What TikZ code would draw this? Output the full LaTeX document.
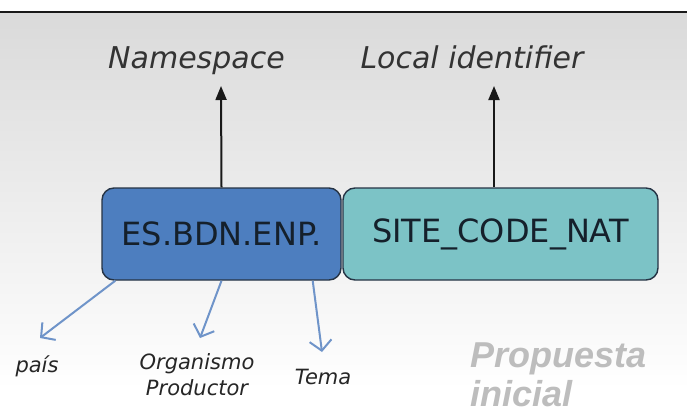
\documentclass[tikz,border=0pt]{standalone}
\usepackage{fontspec}
\setmainfont{DejaVu Sans}
\newfontfamily\propfont{Liberation Sans}
\usetikzlibrary{arrows.meta,calc}
\definecolor{bgtop}{HTML}{DADADA}
\definecolor{boxblue}{HTML}{4D7EBF}
\definecolor{boxteal}{HTML}{7CC3C6}
\definecolor{boxedge}{HTML}{263445}
\definecolor{boxtext}{HTML}{15202B}
\definecolor{subarrow}{HTML}{6F94C9}
\definecolor{propgray}{HTML}{BDBDBD}
\tikzset{
  idbox/.style={draw=boxedge, line width=1.4pt, rounded corners=12pt, inner sep=0pt,
    font=\fontsize{32}{38}\selectfont, text=boxtext},
  toplabel/.style={font=\fontsize{30}{36}\selectfont\itshape, text=black!80, anchor=base, inner sep=0pt},
  sublabel/.style={font=\fontsize{21}{26}\selectfont\itshape, text=black!85, inner sep=0pt, align=center},
  uparrow/.style={draw=black!90, line width=2pt, -{Triangle[length=14pt,width=11pt]}},
  subarrowstyle/.style={draw=subarrow, line width=2pt, -{Straight Barb[length=10pt,width=22pt,line width=2pt]}},
  proplabel/.style={font=\propfont\fontsize{36}{43}\selectfont\bfseries\itshape, text=propgray, anchor=base west, inner sep=0pt}
}
\begin{document}
\begin{tikzpicture}[x=1pt,y=-1pt]
  \useasboundingbox (0,0) rectangle (687,415);
  \fill[white] (0,0) rectangle (687,415);
  \shade[top color=bgtop, bottom color=white] (0,13) rectangle (687,390);
  \draw[line width=2pt, black!90] (0,12) -- (687,12);

  \node[idbox, fill=boxblue, minimum width=239pt, minimum height=92pt] (blue) at (221.5,234) {ES.BDN.ENP.};
  \node[idbox, fill=boxteal, minimum width=315pt, minimum height=92pt] (teal) at (500.5,234) {SITE\_CODE\_NAT};

  \node[toplabel] (ns) at (196.5,68) {Namespace};
  \node[toplabel] (li) at (472,68) {Local identifier};

  \coordinate (nsTip) at (221,86);
  \coordinate (liTip) at (494,86);
  \draw[uparrow] (blue.north) -- (nsTip);
  \draw[uparrow] (liTip |- teal.north) -- (liTip);

  \coordinate (paisTip) at (40,338);
  \coordinate (orgTip) at (200,338);
  \coordinate (temaTip) at (322,352);
  \draw[subarrowstyle] ($(blue.south west)+(14,0)$) -- (paisTip);
  \draw[subarrowstyle] (blue.south) -- (orgTip);
  \draw[subarrowstyle] ($(blue.south east)+(-29,0)$) -- (temaTip);

  \node[sublabel] (pais) at (37,366) {país};
  \node[sublabel] (org) at (197,375) {Organismo\\Productor};
  \node[sublabel] (tema) at (323,377) {Tema};

  \node[proplabel] (prop1) at (470,367) {Propuesta};
  \node[proplabel] (prop2) at (470,406) {inicial};
\end{tikzpicture}
\end{document}
